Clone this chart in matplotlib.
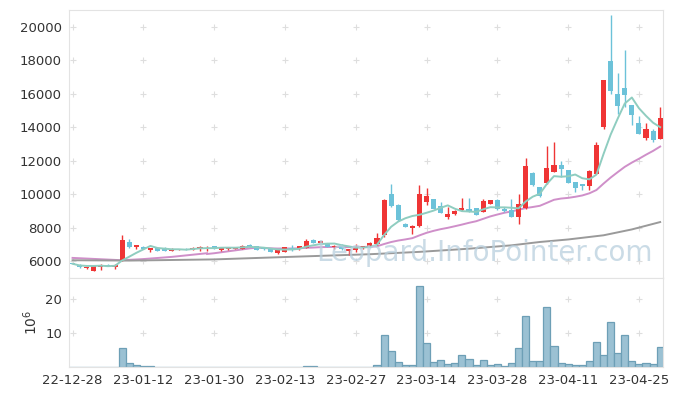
import numpy as np
import pandas as pd
import matplotlib
matplotlib.use('Agg')
import matplotlib.pyplot as plt

# daily candles (KRW)
opens = [5900, 5800, 5600, 5420, 5640, 5800, 5640, 6080, 7150, 6840,
         6880, 6650, 6800, 6820, 6620, 6680, 6760, 6680, 6720, 6760,
         6900, 6660, 6720, 6760, 6760, 7000, 6920, 6800, 6760, 6500,
         6560, 6800, 6720, 6800, 7240, 7100, 7100, 6880, 7000, 6620,
         6660, 6780, 6860, 7020, 7550, 10000, 9340, 8210, 8010, 8090,
         9540, 9700, 9280, 8650, 8810, 9050, 9100, 9160, 8950, 9400,
         9640, 9120, 9040, 8650, 9200, 11270, 10440, 10680, 11330, 11730,
         11430, 10740, 10600, 10480, 11230, 14020, 17970, 15970, 16370, 15310,
         14260, 13380, 13780, 13320]
highs = [5920, 5820, 5680, 5740, 5820, 5810, 5860, 7550, 7300, 6980,
         6900, 6810, 6820, 6850, 6780, 6760, 6780, 6840, 6920, 6920,
         6920, 6810, 6860, 6860, 7000, 7030, 6930, 6820, 6780, 6690,
         6850, 7000, 6920, 7320, 7350, 7220, 7110, 7000, 7010, 6760,
         7020, 6920, 7120, 7690, 9700, 10600, 9400, 8290, 8150, 10540,
         10380, 9720, 9540, 9240, 9030, 9800, 9800, 9180, 9740, 9660,
         9740, 9240, 9740, 10040, 12190, 11300, 10460, 12870, 13120, 11990,
         11460, 10760, 10620, 11420, 13090, 16850, 20690, 17240, 18600, 15350,
         14660, 14260, 13900, 15210]
lows = [5830, 5620, 5520, 5400, 5500, 5690, 5560, 6000, 6800, 6720,
        6720, 6580, 6620, 6620, 6600, 6660, 6660, 6660, 6640, 6640,
        6720, 6640, 6700, 6740, 6740, 6860, 6660, 6700, 6540, 6460,
        6540, 6600, 6700, 6780, 7080, 7080, 6840, 6720, 6700, 6360,
        6560, 6760, 6840, 6900, 7450, 9250, 8420, 8030, 7650, 8030,
        9340, 9090, 8870, 8550, 8790, 9000, 8970, 8750, 8930, 9390,
        9070, 8950, 8630, 8250, 9090, 10500, 9860, 10600, 11300, 11030,
        10650, 10140, 10240, 10240, 11200, 13880, 16010, 14820, 15210, 14120,
        13600, 13260, 13100, 13300]
closes = [5850, 5650, 5660, 5720, 5800, 5700, 5760, 7250, 6840, 6950,
          6740, 6790, 6640, 6640, 6760, 6740, 6680, 6820, 6860, 6820,
          6740, 6800, 6840, 6840, 6940, 6880, 6680, 6720, 6560, 6680,
          6840, 6720, 6900, 7200, 7100, 7200, 6860, 6920, 6720, 6740,
          6820, 6900, 7060, 7410, 9640, 9280, 8450, 8050, 8090, 10000,
          9880, 9100, 8890, 8810, 9000, 9160, 8990, 8770, 9580, 9640,
          9090, 9010, 8650, 9400, 11670, 10540, 9880, 11590, 11730, 11490,
          10680, 10400, 10480, 11390, 12930, 16810, 16170, 15270, 15910, 14720,
          13620, 13880, 13220, 14580]
# volume in millions of shares
volumes = [0, 0, 0, 0, 0, 0, 0, 5.6, 1.2, 0.5,
           0.3, 0.3, 0, 0, 0, 0, 0, 0, 0, 0,
           0, 0, 0, 0, 0, 0, 0, 0, 0, 0,
           0, 0, 0, 0.3, 0.3, 0, 0, 0, 0, 0,
           0, 0, 0, 0.5, 9.3, 4.6, 1.4, 0.5, 0.5, 23.8,
           7.0, 1.4, 2.0, 0.8, 1.2, 3.4, 2.4, 0.5, 2.0, 0.5,
           0.8, 0.2, 1.1, 5.5, 14.9, 1.7, 1.7, 17.5, 6.1, 1.1,
           0.8, 0.5, 0.5, 1.7, 7.3, 3.4, 13.1, 4.0, 9.3, 1.7,
           0.8, 1.1, 0.8, 5.8]
# 20-day average before a full window exists (pink line), read at a few bars
ma20_early_idx = [0, 4, 7, 10, 14, 19]
ma20_early_val = [6200, 6120, 6060, 6130, 6260, 6480]
# long moving average (gray line), read at a few bars
ma_long_idx = [0, 8, 20, 32, 42, 49, 56, 62, 66, 70, 75, 79, 83]
ma_long_val = [6060, 6040, 6110, 6280, 6420, 6560, 6750, 6950, 7150, 7300, 7550, 7900, 8340]

tick_labels = ['22-12-28', '23-01-12', '23-01-30', '23-02-13', '23-02-27',
               '23-03-14', '23-03-28', '23-04-11', '23-04-25']

UP = '#ef3535'
DOWN = '#6cc2d9'
GRIDC = '#dedede'

n = len(closes)
x = np.arange(n)
df = pd.DataFrame({'o': opens, 'h': highs, 'l': lows, 'c': closes, 'v': volumes})
ma5 = df['c'].rolling(5, min_periods=1).mean()
ma20 = df['c'].rolling(20).mean()

fig = plt.figure(figsize=(6.73, 3.96), dpi=100)
ax = fig.add_axes([69 / 673, 1 - 278 / 396, 594 / 673, 268 / 396])
axv = fig.add_axes([69 / 673, 1 - 367 / 396, 594 / 673, 89 / 396], sharex=ax)

# candles
up = df['c'] >= df['o']
cols = np.where(up, UP, DOWN)
ax.vlines(x, df['l'], df['h'], colors=cols, linewidth=1, zorder=3)
body = (df['c'] - df['o']).abs().clip(lower=25)
ax.bar(x, body, bottom=df[['o', 'c']].min(axis=1), width=0.72, color=cols,
       linewidth=0, zorder=4)

ax.plot(x, ma5, color='#8fcdc0', lw=1.4, zorder=5)
ax.plot(ma20_early_idx, ma20_early_val, color='#cf8fc9', lw=1.4, zorder=2)
ax.plot(x, ma20, color='#cf8fc9', lw=1.4, zorder=2)
ax.plot(ma_long_idx, ma_long_val, color='#9a9a9a', lw=1.4, zorder=2)

ax.text(0.7, 0.095, 'Leopard.InfoPointer.com', transform=ax.transAxes,
        fontsize=20, color='#b9d0de', alpha=0.75, ha='center', va='center', zorder=6)

# volume
axv.bar(x, df['v'], width=1.0, color='#9bc1d3', edgecolor='#6d9fb6', linewidth=0.9)

ax.set_xlim(-0.5, n - 0.6)
ax.set_ylim(5000, 21000)
axv.set_ylim(0, 26)

yt = np.arange(6000, 20001, 2000)
ax.set_yticks(yt)
ax.set_yticklabels([str(v) for v in yt])
axv.set_yticks([10, 20])
xt = np.arange(0, n, 10)
axv.set_xticks(xt)
axv.set_xticklabels(tick_labels)
axv.set_ylabel('$10^6$', fontsize=10, color='#333333', labelpad=4)

# '+' grid marks at tick crossings
gx, gy = np.meshgrid(xt, yt)
ax.scatter(gx.ravel(), gy.ravel(), marker='+', s=14, color=GRIDC, lw=0.8, zorder=1)
gx, gy = np.meshgrid(xt, [10, 20])
axv.scatter(gx.ravel(), gy.ravel(), marker='+', s=14, color=GRIDC, lw=0.8, zorder=1)

for a in (ax, axv):
    for s in a.spines.values():
        s.set_color('#e3e3e3')
    a.tick_params(length=0, labelsize=9.5, labelcolor='#333333', pad=5)
plt.setp(ax.get_xticklabels(), visible=False)

fig.savefig('out.png', dpi=100)
